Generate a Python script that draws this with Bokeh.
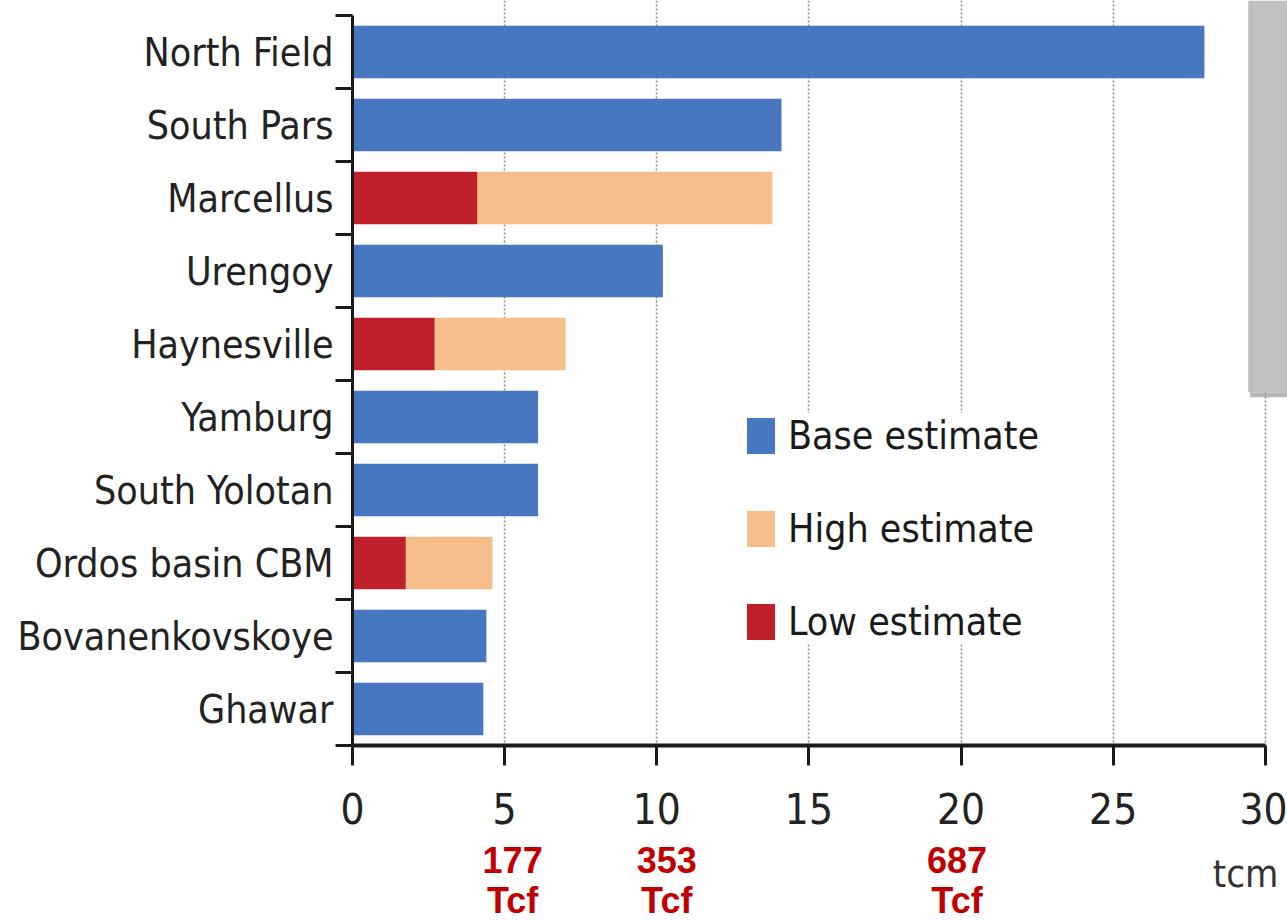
from bokeh.plotting import figure
from bokeh.layouts import column
from bokeh.models import (ColumnDataSource, Range1d, FixedTicker, LinearAxis, Legend,
                          LegendItem, Label, BoxAnnotation)
from bokeh.embed import file_html
from bokeh.resources import INLINE

# ---- data (tcm) ----
fields = ["North Field", "South Pars", "Marcellus", "Urengoy", "Haynesville",
          "Yamburg", "South Yolotan", "Ordos basin CBM", "Bovanenkovskoye", "Ghawar"]
base_estimate = [28.0, 14.1, 0, 10.2, 0, 6.1, 6.1, 0, 4.4, 4.3]
low_estimate = [0, 0, 4.1, 0, 2.7, 0, 0, 1.75, 0, 0]
high_estimate = [0, 0, 13.8, 0, 7.0, 0, 0, 4.6, 0, 0]
x_ticks = [0, 5, 10, 15, 20, 25, 30]
tcf_ticks = [5, 10, 20]
tcf_values = ["177", "353", "687"]

BLUE = "#4677c0"
PEACH = "#f5be8a"
RED = "#c0202a"
FONT = "DejaVu Sans Condensed"

centers = [i + 0.5 for i in range(len(fields))]
bounds_ticks = [i for i in range(len(fields) + 1)]

src = ColumnDataSource(dict(y=centers, base=base_estimate, low=low_estimate,
                            high=high_estimate, zero=[0] * len(fields)))

p = figure(width=1287, height=836, output_backend="svg", toolbar_location=None,
           x_range=Range1d(0, 30.73), y_range=Range1d(10, -0.2055),
           min_border_left=352, min_border_right=0, min_border_top=0,
           min_border_bottom=91, x_axis_location=None, y_axis_location=None)
p.outline_line_color = None
p.background_fill_color = "white"
p.border_fill_color = "white"

# grid
p.xgrid.ticker = FixedTicker(ticks=x_ticks[1:])
p.xgrid.grid_line_color = "#8a8a8a"
p.xgrid.grid_line_dash = "2 2"
p.xgrid.grid_line_width = 1.5
p.ygrid.grid_line_color = None

# bars
r_base = p.hbar(y="y", left="zero", right="base", height=0.72, source=src,
                fill_color=BLUE, line_color=None)
r_high = p.hbar(y="y", left="low", right="high", height=0.72, source=src,
                fill_color=PEACH, line_color=None)
r_low = p.hbar(y="y", left="zero", right="low", height=0.72, source=src,
               fill_color=RED, line_color=None)

# x axis
xa = LinearAxis(ticker=FixedTicker(ticks=x_ticks), bounds=(0, 30))
xa.axis_line_width = 4
xa.axis_line_color = "#1a1a1a"
xa.major_tick_out = 20
xa.major_tick_in = 0
xa.major_tick_line_width = 3
xa.major_tick_line_color = "#1a1a1a"
xa.minor_tick_out = 0
xa.minor_tick_in = 0
xa.major_label_text_font = FONT
xa.major_label_text_font_size = "42px"
xa.major_label_text_color = "#222222"
xa.major_label_standoff = 27
p.add_layout(xa, "below")

# y axis: labels at centres, ticks at boundaries
ya = LinearAxis(ticker=FixedTicker(ticks=centers, minor_ticks=bounds_ticks), bounds=(0, 10))
ya.axis_line_width = 3
ya.axis_line_color = "#1a1a1a"
ya.major_tick_out = 0
ya.major_tick_in = 0
ya.minor_tick_out = 17
ya.minor_tick_in = 0
ya.minor_tick_line_width = 3
ya.minor_tick_line_color = "#1a1a1a"
ya.major_label_overrides = {c: f for c, f in zip(centers, fields)}
ya.major_label_text_font = FONT
ya.major_label_text_font_size = "39px"
ya.major_label_text_color = "#222222"
ya.major_label_standoff = 2
p.add_layout(ya, "left")

# grey panel at top right
p.add_layout(BoxAnnotation(left=29.5, bottom=5.23, top=5.16, fill_color="#9a9a9a",
                           fill_alpha=0.7, line_color=None))
p.add_layout(BoxAnnotation(left=29.44, bottom=5.16, fill_color="#c0c0c0",
                           fill_alpha=1, line_color=None))

# legend
legend = Legend(items=[LegendItem(label="Base estimate", renderers=[r_base]),
                       LegendItem(label="High estimate", renderers=[r_high]),
                       LegendItem(label="Low estimate", renderers=[r_low])],
                location=(391, 101), glyph_width=35, glyph_height=45,
                label_text_font=FONT, label_text_font_size="39px",
                label_text_color="#1a1a1a", label_standoff=10, spacing=48,
                padding=10, margin=0, background_fill_color="white",
                background_fill_alpha=1, border_line_color=None)
p.add_layout(legend)

# lower strip for Tcf conversions
p2 = figure(width=1287, height=84, output_backend="svg", toolbar_location=None,
            x_range=p.x_range, y_range=Range1d(84, 0),
            min_border_left=352, min_border_right=0, min_border_top=0,
            min_border_bottom=0, x_axis_location=None, y_axis_location=None)
p2.outline_line_color = None
p2.grid.grid_line_color = None
p2.background_fill_color = "white"
p2.border_fill_color = "white"

x_shift = [8, 10, -4]
for xt, txt, dx in zip(tcf_ticks, tcf_values, x_shift):
    p2.add_layout(Label(x=xt, y=23, text=txt, x_offset=dx, text_align="center",
                        text_baseline="middle", text_font="Liberation Sans",
                        text_font_style="bold", text_font_size="36px", text_color="#c00000"))
    p2.add_layout(Label(x=xt, y=64, text="Tcf", x_offset=dx, text_align="center",
                        text_baseline="middle", text_font="Liberation Sans",
                        text_font_style="bold", text_font_size="36px", text_color="#c00000"))
p2.add_layout(Label(x=29.35, y=37, text="tcm", text_align="center",
                    text_baseline="middle", text_font=FONT, text_font_size="38px",
                    text_color="#333333"))

open("out.html", "w").write(file_html(column(p, p2, spacing=0), INLINE))
